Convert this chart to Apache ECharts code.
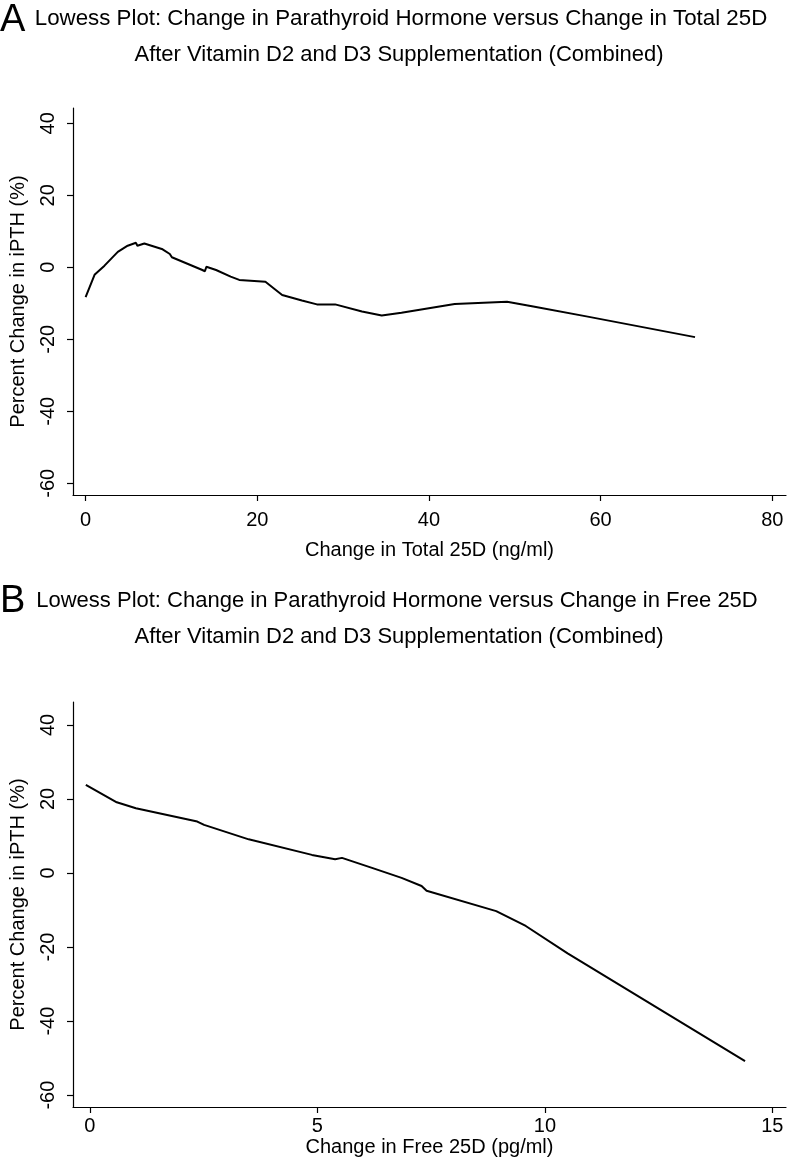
<!DOCTYPE html>
<html>
<head>
<meta charset="utf-8">
<script src="https://cdn.jsdelivr.net/npm/echarts@6/dist/echarts.min.js"></script>
<style>
html,body{margin:0;padding:0;background:#fff;}
#chart{width:788px;height:1165px;}
</style>
</head>
<body>
<div id="chart"></div>
<script>
// Panel A: change in total 25D (ng/ml) vs percent change in iPTH
const xA = [0, 1.04, 2.2, 3.75, 4.9, 5.87, 6.03, 6.84, 8.97, 9.81, 10.05, 13.6, 13.9, 14.07, 15.2, 16.9, 17.9, 20.95, 21.9, 22.9, 25.2, 26.95, 29.07, 32.2, 34.5, 36.8, 43.0, 49.1, 52.0, 58.5, 71.0];
const yA = [-8.3, -2.1, 0.45, 4.3, 6.0, 6.8, 6.0, 6.6, 5.0, 3.7, 2.8, -0.75, -1.1, 0.17, -0.75, -2.6, -3.5, -4.0, -5.8, -7.7, -9.2, -10.3, -10.3, -12.3, -13.4, -12.6, -10.2, -9.6, -10.8, -13.7, -19.4];
// Panel B: change in free 25D (pg/ml) vs percent change in iPTH
const xB = [-0.09, 0.59, 1.01, 2.36, 2.51, 3.49, 4.88, 5.39, 5.54, 6.2, 6.85, 7.29, 7.4, 8.93, 9.58, 10.5, 14.4];
const yB = [23.8, 19.1, 17.5, 13.9, 13.0, 9.1, 4.9, 3.7, 4.1, 1.4, -1.3, -3.5, -4.8, -10.3, -14.3, -21.7, -50.8];
// Tick labels
const xTicksA = [0, 20, 40, 60, 80];
const xTicksB = [0, 5, 10, 15];
const yTicks = [-60, -40, -20, 0, 20, 40];

const titleA1 = 'Lowess Plot: Change in Parathyroid Hormone versus Change in Total 25D';
const titleB1 = 'Lowess Plot: Change in Parathyroid Hormone versus Change in Free 25D';
const title2 = 'After Vitamin D2 and D3 Supplementation (Combined)';
const xNameA = 'Change in Total 25D (ng/ml)';
const xNameB = 'Change in Free 25D (pg/ml)';
const yName = 'Percent Change in iPTH (%)';

const FONT = '"Liberation Sans", Arial, Helvetica, sans-serif';
const zip = (xs, ys) => xs.map((x, i) => [x, ys[i]]);

const axisCommon = {
  axisLine: {onZero: false, lineStyle: {color: '#000', width: 1.2}},
  axisTick: {show: true, inside: false, length: 6, lineStyle: {color: '#000', width: 1.2}},
  splitLine: {show: false},
  nameTextStyle: {color: '#000', fontSize: 20, fontFamily: FONT},
};

function xAxis(idx, min, max, ticks, name, margin, gap) {
  return Object.assign({}, axisCommon, {
    type: 'value', gridIndex: idx, min: min, max: max,
    name: name, nameLocation: 'middle', nameGap: gap,
    axisTick: Object.assign({}, axisCommon.axisTick, {customValues: ticks}),
    axisLabel: {customValues: ticks, color: '#000', fontSize: 20, fontFamily: FONT, margin: margin, showMinLabel: true, showMaxLabel: true},
  });
}
function yAxis(idx, min, max) {
  return Object.assign({}, axisCommon, {
    type: 'value', gridIndex: idx, min: min, max: max,
    name: yName, nameLocation: 'middle', nameGap: 45,
    axisTick: Object.assign({}, axisCommon.axisTick, {customValues: yTicks}),
    axisLabel: {customValues: yTicks, rotate: 90, color: '#000', fontSize: 20, fontFamily: FONT, margin: 15},
  });
}

const chart = echarts.init(document.getElementById('chart'), null, {renderer: 'canvas'});
chart.setOption({
  animation: false,
  backgroundColor: '#fff',
  textStyle: {fontFamily: FONT},
  graphic: [
    {type: 'text', left: 0, top: 2, style: {text: 'A', font: '38px ' + FONT, fill: '#000'}},
    {type: 'text', x: 401, y: 19, style: {text: titleA1, font: '22.3px ' + FONT, fill: '#000', align: 'center', verticalAlign: 'middle'}},
    {type: 'text', x: 399, y: 55, style: {text: title2, font: '22px ' + FONT, fill: '#000', align: 'center', verticalAlign: 'middle'}},
    {type: 'text', left: 0, top: 583, style: {text: 'B', font: '38px ' + FONT, fill: '#000'}},
    {type: 'text', x: 397, y: 601, style: {text: titleB1, font: '22px ' + FONT, fill: '#000', align: 'center', verticalAlign: 'middle'}},
    {type: 'text', x: 399, y: 637, style: {text: title2, font: '22px ' + FONT, fill: '#000', align: 'center', verticalAlign: 'middle'}},
  ],
  grid: [
    {left: 70, top: 108, width: 716, height: 387},
    {left: 70, top: 702, width: 716, height: 405},
  ],
  xAxis: [
    xAxis(0, -1.47, 81.6, xTicksA, xNameA, 15, 45),
    xAxis(1, -0.372, 15.3, xTicksB, xNameB, 9, 30),
  ],
  yAxis: [
    yAxis(0, -63.25, 44.25),
    yAxis(1, -63.2, 46.2),
  ],
  series: [
    {type: 'line', xAxisIndex: 0, yAxisIndex: 0, data: zip(xA, yA), showSymbol: false, symbol: 'none',
     lineStyle: {color: '#000', width: 2}, smooth: false},
    {type: 'line', xAxisIndex: 1, yAxisIndex: 1, data: zip(xB, yB), showSymbol: false, symbol: 'none',
     lineStyle: {color: '#000', width: 2}, smooth: false},
  ],
});
</script>
</body>
</html>
